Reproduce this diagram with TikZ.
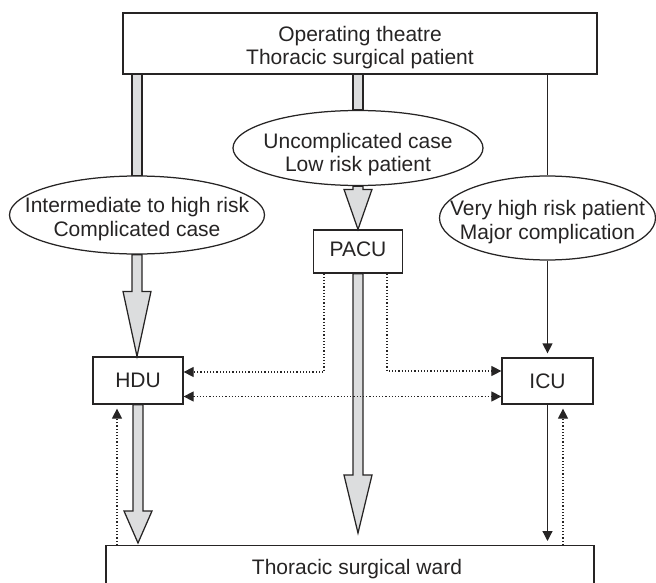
\documentclass[tikz,border=0pt]{standalone}
\usepackage{fontspec}
\setmainfont{Liberation Sans}
\usetikzlibrary{calc,arrows.meta,shapes.geometric}
\definecolor{ink}{HTML}{262424}
\definecolor{fatgray}{HTML}{DCDDDE}
\tikzset{
  base/.style={draw=ink, line width=1.25pt, fill=white, inner sep=0pt,
    font=\fontsize{21}{23.5}\selectfont, text=ink},
  box/.style={base, rectangle},
  oval/.style={base, ellipse},
  fat/.style={draw=ink, line width=1.25pt, fill=fatgray, line join=miter},
  thinline/.style={draw=ink, line width=1.25pt},
  dots/.style={draw=ink, line width=1.2pt, dotted},
  tip/.style={-{Triangle[length=10pt,width=10pt]}},
  bothtips/.style={{Triangle[length=10pt,width=10pt]}-{Triangle[length=10pt,width=10pt]}},
}
\newcommand\fatshaft[2]{\path[fat] let \p1=(#1), \p2=(#2) in
  (\x1-5pt,\y1) -- (\x1-5pt,\y2) -- (\x1+5pt,\y2) -- (\x1+5pt,\y1) -- cycle;}
\newcommand\fatarrow[3]{\path[fat] let \p1=(#1), \p2=(#2) in
  (\x1-5pt,\y1) -- (\x1-5pt,\y2+#3) -- (\x1-14pt,\y2+#3) -- (\x1,\y2) --
  (\x1+14pt,\y2+#3) -- (\x1+5pt,\y2+#3) -- (\x1+5pt,\y1) -- cycle;}
\newcommand\txt[2][9.9pt]{\raisebox{-#1}[0pt][0pt]{\makebox[0pt]{\begin{tabular}{@{}c@{}}#2\end{tabular}}}}
\begin{document}
\begin{tikzpicture}[x=1pt,y=-1pt]
\useasboundingbox (0,0) rectangle (656,583);
% nodes
\node[box, minimum width=474pt, minimum height=61pt] (top) at (360,43.5)
  {\txt{Operating theatre\\Thoracic surgical patient}};
\node[oval, minimum width=250pt, minimum height=75pt] (M) at (358,148)
  {\txt[12.4pt]{Uncomplicated case\\Low risk patient}};
\node[oval, minimum width=255pt, minimum height=78pt] (L) at (137,215)
  {\txt{Intermediate to high risk\\Complicated case}};
\node[oval, minimum width=216pt, minimum height=84pt] (R) at (547.5,218)
  {\txt{Very high risk patient\\Major complication}};
\node[box, minimum width=89pt, minimum height=43pt] (PACU) at (358,251.5) {\txt[5.9pt]{PACU}};
\node[box, minimum width=90pt, minimum height=47pt] (HDU) at (138,380.5) {\txt[7.9pt]{HDU}};
\node[box, minimum width=91pt, minimum height=46pt] (ICU) at (547.5,381) {\txt[7.9pt]{ICU}};
\node[box, anchor=north, minimum width=488pt, minimum height=48pt] (ward) at (350,545)
  {\txt[4.9pt]{\hspace*{14pt}Thoracic surgical ward}};
% fat connectors
\fatshaft{top.south -| L.north}{L.north}
\fatshaft{top.south -| M.north}{M.north}
\fatarrow{L.south}{L.south |- HDU.north}{65pt}
\fatarrow{M.south}{M.south |- PACU.north}{40pt}
\fatarrow{PACU.south}{$(PACU.south |- ward.north)+(0,-12)$}{58pt}
\fatarrow{HDU.south}{$(HDU.south |- ward.north)+(0,-2)$}{32pt}
% thin connectors
\draw[thinline] (top.south -| R.north) -- (R.north);
\draw[thinline,tip,shorten >=4pt] (R.south) -- (R.south |- ICU.north);
\draw[thinline,tip,shorten >=4pt] (ICU.south) -- (ICU.south |- ward.north);
% dotted connectors
\draw[dots,tip] ([xshift=-34pt]PACU.south) |- ([yshift=8.5pt]HDU.east);
\draw[dots,tip] ([xshift=29pt]PACU.south) |- ([yshift=10pt]ICU.west);
\draw[dots,bothtips] ([yshift=-16pt]HDU.east) -- ([yshift=-16pt]HDU.east -| ICU.west);
\draw[dots,tip,shorten >=4pt] ([xshift=15.5pt]ICU.south |- ward.north) -- ([xshift=15.5pt]ICU.south);
\draw[dots,tip,shorten >=4pt] ([xshift=-21pt]HDU.south |- ward.north) -- ([xshift=-21pt]HDU.south);
\end{tikzpicture}
\end{document}
